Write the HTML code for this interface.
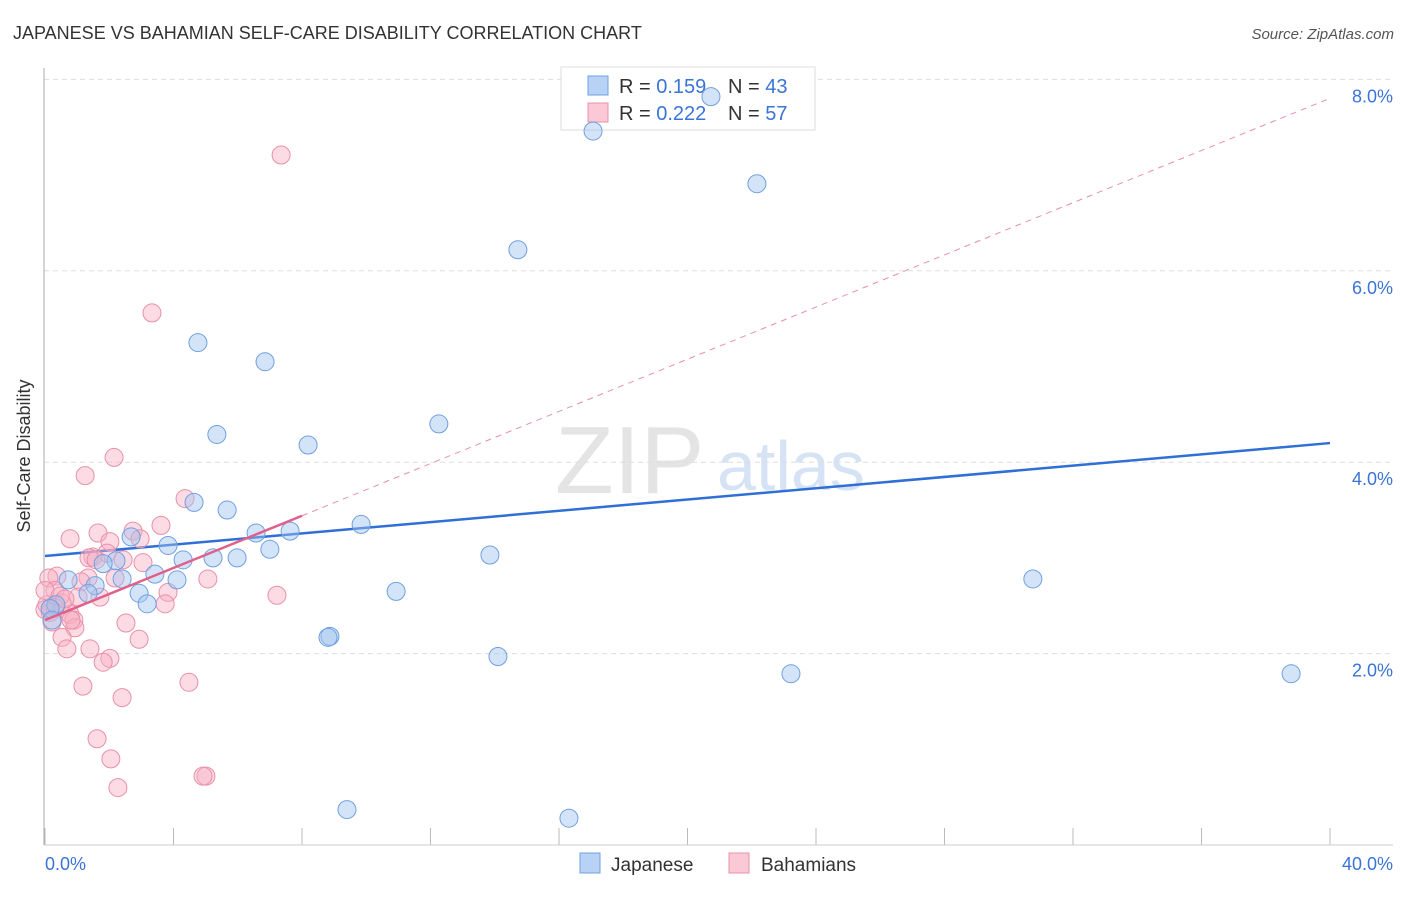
<!DOCTYPE html>
<html><head><meta charset="utf-8"><style>
body{margin:0;background:#fff;font-family:"Liberation Sans",sans-serif}
svg text{font-family:"Liberation Sans",sans-serif}
</style></head><body>
<svg id="chart" width="1406" height="892" xmlns="http://www.w3.org/2000/svg">
<text x="13" y="39" font-size="18" fill="#333">JAPANESE VS BAHAMIAN SELF-CARE DISABILITY CORRELATION CHART</text>
<text x="1394" y="39" font-size="15" fill="#555" font-style="italic" text-anchor="end">Source: ZipAtlas.com</text>
<text x="555" y="493" font-size="96" fill="#e4e4e4" font-family="Liberation Serif">ZIP</text>
<text x="717" y="490" font-size="70" fill="#d6e3f5">atlas</text>
<g id="grid"></g>
<line x1="44" y1="68" x2="44" y2="845" stroke="#aaa"/>
<line x1="44" y1="845" x2="1393" y2="845" stroke="#ccc"/>
<text x="30" y="456" font-size="18" fill="#333" text-anchor="middle" transform="rotate(-90 30 456)">Self-Care Disability</text>
<text x="45" y="870" font-size="18" fill="#3a74d6">0.0%</text>
<text x="1393" y="870" font-size="18" fill="#3a74d6" text-anchor="end">40.0%</text>
<g>
<rect x="561" y="67" width="254" height="63" fill="#fff" stroke="#ddd"/>
<rect x="588" y="76" width="20" height="19" fill="#b8d2f5" stroke="#6fa0e0"/>
<rect x="588" y="103" width="20" height="19" fill="#fbc8d6" stroke="#e890a8"/>
<text x="619" y="93" font-size="20" fill="#333">R = <tspan fill="#3a74d6">0.159</tspan></text>
<text x="728" y="93" font-size="20" fill="#333">N = <tspan fill="#3a74d6">43</tspan></text>
<text x="619" y="120" font-size="20" fill="#333">R = <tspan fill="#3a74d6">0.222</tspan></text>
<text x="728" y="120" font-size="20" fill="#333">N = <tspan fill="#3a74d6">57</tspan></text>
</g>
<g id="trend"></g>
<g id="pts"></g>
<g><rect x="580" y="853" width="20" height="20" fill="#b8d2f5" stroke="#6fa0e0"/><text x="611" y="871" font-size="19" fill="#333">Japanese</text></g>
<g><rect x="729" y="853" width="20" height="20" fill="#fbc8d6" stroke="#e890a8"/><text x="761" y="871" font-size="19" fill="#333">Bahamians</text></g>
</svg>
<script>
const yTicks=[2,4,6,8];
const yTickLabels=["2.0%","4.0%","6.0%","8.0%"];
const xTicks=[0,4,8,12,16,20,24,28,32,36,40];
const japX=[20.73,17.06,22.16,14.72,4.76,6.85,12.26,5.35,8.19,4.64,5.67,9.84,6.57,7.63,2.68,3.83,7.00,13.85,5.23,5.98,4.30,2.21,1.81,3.42,2.40,4.11,0.72,30.75,1.56,1.34,2.93,10.93,3.18,0.34,0.16,8.87,8.81,14.10,23.22,38.79,9.40,16.31,0.22];
const japY=[7.82,7.46,6.91,6.22,5.25,5.05,4.40,4.29,4.18,3.58,3.50,3.35,3.26,3.28,3.22,3.13,3.09,3.03,3.00,3.00,2.98,2.97,2.94,2.83,2.78,2.77,2.77,2.78,2.71,2.63,2.63,2.65,2.52,2.51,2.47,2.18,2.17,1.97,1.79,1.79,0.37,0.28,2.35];
const bahX=[7.35,3.33,2.15,1.25,4.36,3.61,0.78,1.65,2.74,2.96,2.02,1.93,1.49,2.43,3.05,1.37,0.37,0.12,1.34,1.12,5.07,3.83,7.22,1.71,1.03,0.31,0.53,3.74,0.06,0.16,0.78,0.90,2.52,0.93,0.53,2.93,1.40,0.68,2.02,1.81,1.18,4.48,2.40,1.62,2.05,5.01,4.92,2.27,0.00,0.47,0.31,0.22,0.81,1.59,2.18,0.62,0.0];
const bahY=[7.21,5.56,4.05,3.86,3.62,3.34,3.20,3.26,3.28,3.20,3.17,3.05,3.01,2.98,2.95,3.00,2.81,2.79,2.79,2.75,2.78,2.64,2.61,2.59,2.59,2.66,2.53,2.52,2.51,2.43,2.41,2.35,2.32,2.27,2.17,2.15,2.05,2.05,1.95,1.91,1.66,1.70,1.54,1.11,0.90,0.72,0.72,0.60,2.66,2.60,2.48,2.33,2.35,2.98,2.79,2.57,2.46];
const japTrend=[3.02,4.20];
const bahTrend=[2.35,0.1363];
const NS="http://www.w3.org/2000/svg";
const sx=v=>45+v*32.125, sy=v=>845-v*95.7;
function mk(t,a,p){const e=document.createElementNS(NS,t);for(const k in a)e.setAttribute(k,a[k]);p.appendChild(e);return e;}
const grid=document.getElementById('grid');
yTicks.forEach((t,i)=>{
 const l=mk('line',{x1:44,x2:1393,y1:sy(t),y2:sy(t),stroke:'#ddd','stroke-dasharray':'5,4'},grid);
 
 
 const tx=mk('text',{x:1393,y:sy(t)+23,'font-size':18,fill:'#3a74d6','text-anchor':'end'},grid);
 tx.textContent=yTickLabels[i];
 
 
});
xTicks.forEach(t=>{
 const l=mk('line',{x1:sx(t),x2:sx(t),y1:828,y2:845,stroke:'#bbb'},grid);
 
 
});
const tr=document.getElementById('trend');
let l1=mk('line',{x1:sx(8),y1:sy(bahTrend[0]+bahTrend[1]*8),x2:sx(40),y2:sy(bahTrend[0]+bahTrend[1]*40),stroke:'#e890a8','stroke-width':1,'stroke-dasharray':'6,5'},tr);


let l2=mk('line',{x1:sx(0),y1:sy(japTrend[0]),x2:sx(40),y2:sy(japTrend[1]),stroke:'#2f6fd6','stroke-width':2.5},tr);


const pts=document.getElementById('pts');
bahX.forEach((x,i)=>{
 const c=mk('circle',{cx:sx(x),cy:sy(bahY[i]),r:9,fill:'rgba(248,175,198,0.45)',stroke:'#e890a8','stroke-width':1},pts);
 
 
});
japX.forEach((x,i)=>{
 const c=mk('circle',{cx:sx(x),cy:sy(japY[i]),r:9,fill:'rgba(160,195,240,0.45)',stroke:'#6fa0e0','stroke-width':1},pts);
 
 
});
let l3=mk('line',{x1:sx(0),y1:sy(bahTrend[0]),x2:sx(8),y2:sy(bahTrend[0]+bahTrend[1]*8),stroke:'#e0608a','stroke-width':2.5},pts);


</script>
</body></html>
